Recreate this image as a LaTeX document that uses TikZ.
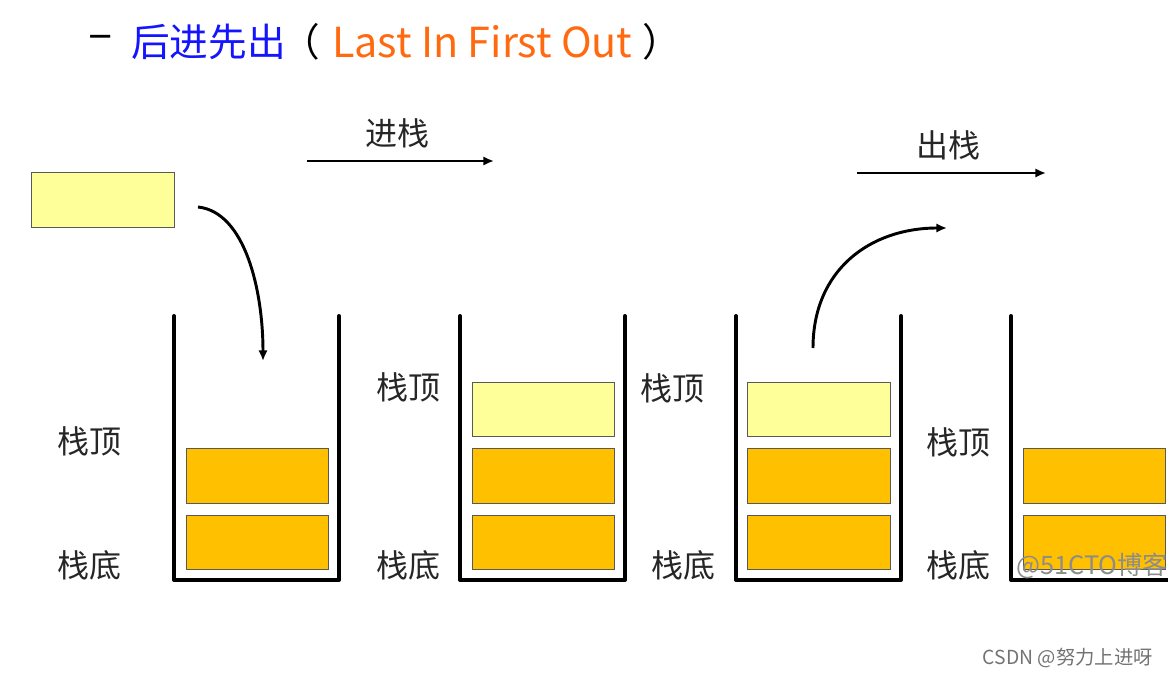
\documentclass[tikz,border=0pt]{standalone}
\usepackage{fontspec}
\setmainfont{Noto Sans CJK SC}
\usetikzlibrary{arrows.meta, positioning}

\definecolor{boxorange}{HTML}{FFC000}
\definecolor{boxyellow}{HTML}{FFFF99}
\definecolor{titleblue}{HTML}{1414FF}
\definecolor{titleorange}{HTML}{FF6A10}

\begin{document}
\begin{tikzpicture}[x=0.75pt, y=-0.75pt]

\tikzset{wall/.style = {line width=3pt, line join=round, line cap=round}}
\tikzset{slot/.style = {shape=rectangle, draw=black!65, line width=0.8pt, minimum width=107pt, minimum height=41pt, inner sep=0pt, outer sep=0pt}}
\tikzset{full/.style = {slot, fill=boxorange}}
\tikzset{new/.style = {slot, fill=boxyellow}}
\tikzset{lbl/.style = {font=\fontsize{24pt}{26pt}\selectfont, text=black!85}}
\tikzset{head/.style = {anchor=west, inner sep=0pt, font=\fontsize{29pt}{31pt}\selectfont}}
\tikzset{edge/.style = {-{Latex[length=8pt, width=7pt]}, line width=2.2pt}}

\useasboundingbox (0,0) rectangle (1168,677);
\clip (0,0) rectangle (1168,677);

%title
\node[head, font=\fontsize{34pt}{36pt}\selectfont] (dash) at (88,42) {–};
\node[head, text=titleblue] (lifo) at (131,42) {后进先出};
\node[head] (lpar) at (281,42) {（};
\node[head, text=titleorange, font=\fontsize{31pt}{33pt}\selectfont] (eng) at (332,42) {Last In First Out};
\node[head] (rpar) at (642,42) {）};

%push
\node[new] (item) at (103,200) {};
\node[lbl] (push) at (397,133) {进栈};
\coordinate (pushs) at (307,161);
\coordinate (pushe) at (494,161);
\draw [edge] (pushs) -- (pushe);
\coordinate (in1) at (198,207);
\coordinate (in2) at (263,361);
\draw [edge] (in1) .. controls (245,212) and (263,290) .. (in2);

%stack 1
\draw [wall] (174,316) -- (174,580) -- (339,580) -- (339,316);
\node[full] (s1b) at (257.5,542.5) {};
\node[full] (s1a) at (257.5,476) {};
\node[lbl] (top1) at (89,441) {栈顶};
\node[lbl] (bot1) at (89,565) {栈底};

%stack 2
\draw [wall] (460,316) -- (460,580) -- (625,580) -- (625,316);
\node[full] (s2c) at (543.5,542.5) {};
\node[full] (s2b) at (543.5,476) {};
\node[new] (s2a) at (543.5,409.5) {};
\node[lbl] (top2) at (408,387) {栈顶};
\node[lbl] (bot2) at (408,565) {栈底};

%stack 3
\draw [wall] (736,316) -- (736,580) -- (901,580) -- (901,316);
\node[full] (s3c) at (819,542.5) {};
\node[full] (s3b) at (819,476) {};
\node[new] (s3a) at (819,409.5) {};
\node[lbl] (top3) at (672,388) {栈顶};
\node[lbl] (bot3) at (683,565) {栈底};

%pop
\coordinate (out1) at (813,348);
\coordinate (out2) at (947,228);
\draw [edge] (out1) .. controls (813,270) and (870,228) .. (out2);
\node[lbl] (pop) at (948,145) {出栈};
\coordinate (pops) at (857,173);
\coordinate (pope) at (1046,173);
\draw [edge] (pops) -- (pope);

%stack 4
\draw [wall] (1011,316) -- (1011,580) -- (1176,580) -- (1176,316);
\node[full] (s4b) at (1094.5,542.5) {};
\node[full] (s4a) at (1094.5,476) {};
\node[lbl] (top4) at (958,442) {栈顶};
\node[lbl] (bot4) at (958,565) {栈底};

%marks
\node[anchor=west, inner sep=0pt, text=black!45, font=\fontsize{19pt}{21pt}\selectfont] (mark1) at (1016,566) {@51CTO博客};
\node[anchor=east, inner sep=0pt, text=black!55, font=\fontsize{14.5pt}{16pt}\selectfont] (mark2) at (1153,658) {CSDN @努力上进呀};

\end{tikzpicture}
\end{document}
